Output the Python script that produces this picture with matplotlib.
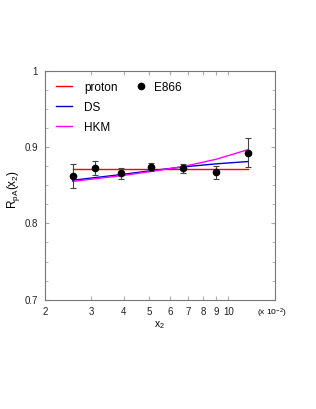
import matplotlib.pyplot as plt
from matplotlib.ticker import FixedLocator, FixedFormatter, NullFormatter
from matplotlib.lines import Line2D

plt.rcParams['font.family'] = ['Liberation Sans', 'DejaVu Sans']
plt.rcParams['mathtext.fontset'] = 'custom'
plt.rcParams['mathtext.rm'] = 'Liberation Sans'
plt.rcParams['mathtext.it'] = 'Liberation Sans'

# E866 data points (x2 in units of 10^-2)
x2 = [2.55, 3.11, 3.91, 5.07, 6.74, 8.98, 11.86]
r_e866 = [0.862, 0.8725, 0.8655, 0.874, 0.872, 0.8672, 0.8926]
r_err = [0.016, 0.0095, 0.007, 0.005, 0.006, 0.0085, 0.019]

# model curves at the same x2
r_proton = [0.8708, 0.8708, 0.8708, 0.8708, 0.8708, 0.8708, 0.8708]
r_ds = [0.8565, 0.860, 0.864, 0.869, 0.874, 0.878, 0.881]
r_hkm = [0.855, 0.8585, 0.8625, 0.868, 0.8745, 0.884, 0.8965]

xticks = [2, 3, 4, 5, 6, 7, 8, 9, 10]
yticks = [0.7, 0.8, 0.9, 1.0]
ytick_labels = ['0.7', '0.8', '0.9', '1']

fig = plt.figure(figsize=(3.16, 4.09), dpi=100)
ax = fig.add_axes([0.1424, 0.2672, 0.7266, 0.5599])

ax.plot(x2, r_proton, color='red', lw=1)
ax.plot(x2, r_ds, color='#0000cc', lw=1)
ax.plot(x2, r_hkm, color='magenta', lw=1)
ax.errorbar(x2, r_e866, yerr=r_err, fmt='o', color='black', ms=4.5,
            ecolor='#444444', elinewidth=0.8, capsize=2.2, capthick=0.8)

ax.set_xscale('log')
ax.set_xlim(2, 15)
ax.set_ylim(0.7, 1.0)
ax.xaxis.set_major_locator(FixedLocator(xticks))
ax.xaxis.set_major_formatter(FixedFormatter([str(t) for t in xticks]))
ax.xaxis.set_minor_locator(FixedLocator([]))
ax.xaxis.set_minor_formatter(NullFormatter())
ax.yaxis.set_major_locator(FixedLocator(yticks))
ax.yaxis.set_major_formatter(FixedFormatter(ytick_labels))
ax.yaxis.set_minor_locator(FixedLocator([0.725, 0.75, 0.775, 0.825, 0.85, 0.875,
                                         0.925, 0.95, 0.975]))

ax.tick_params(which='both', direction='in', top=True, right=True,
               color='#aaaaaa', labelsize=7, labelcolor='#222222')
ax.tick_params(which='major', length=3, pad=5)
ax.tick_params(which='minor', length=2)
for s in ax.spines.values():
    s.set_color('#777777')
    s.set_linewidth(0.8)

ax.set_xlabel('x$_2$', fontsize=7.5, labelpad=2)
ax.set_ylabel('R$_{pA}$(x$_2$)', fontsize=8.5)
ax.yaxis.set_label_coords(-0.1, 0.48)
ax.text(0.99, -0.058, '(x 10$^{-2}$)', transform=ax.transAxes, fontsize=6,
        ha='center', va='center')

h1 = [Line2D([], [], color='red', lw=1),
      Line2D([], [], color='#0000cc', lw=1),
      Line2D([], [], color='magenta', lw=1)]
leg1 = ax.legend(h1, ['proton', 'DS', 'HKM'], loc='upper left',
                 bbox_to_anchor=(0.0, 0.999), frameon=False, fontsize=8.5,
                 handlelength=1.4, labelspacing=0.68, handletextpad=1.0)
ax.add_artist(leg1)
h2 = [Line2D([], [], color='black', marker='o', ls='none', ms=4.5)]
ax.legend(h2, ['E866'], loc='upper left', bbox_to_anchor=(0.345, 0.999),
          frameon=False, fontsize=8.5, handlelength=1.0, handletextpad=0.6)

fig.savefig('out.png', dpi=100)
